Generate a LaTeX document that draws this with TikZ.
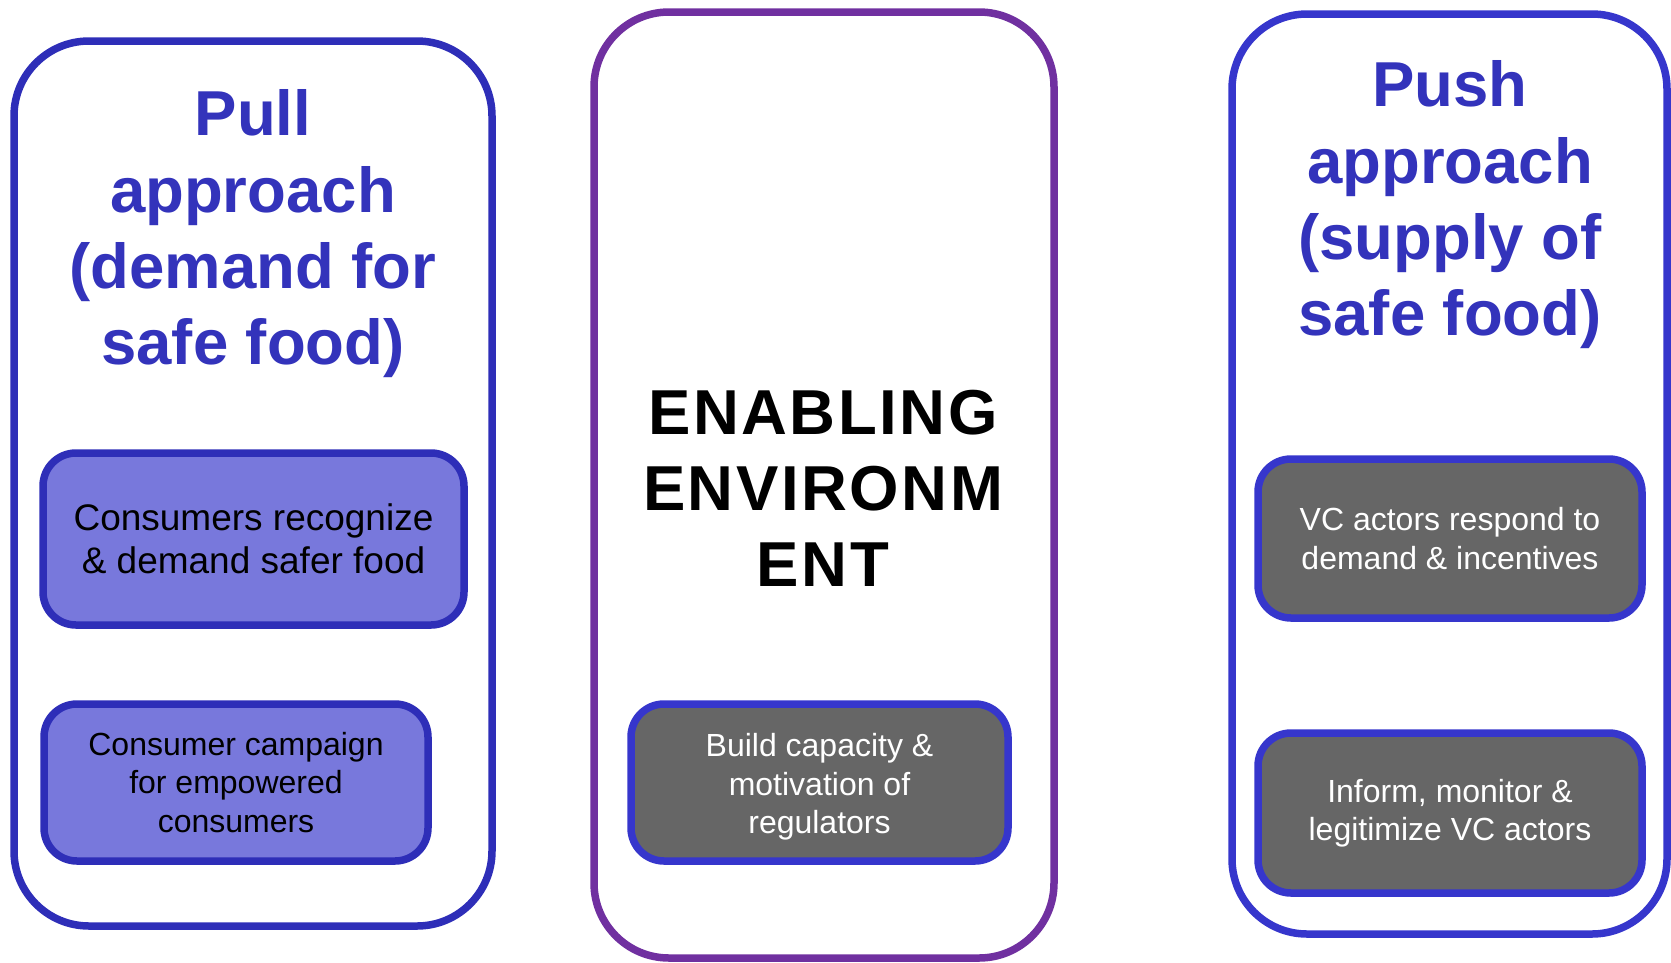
\documentclass[tikz,border=0pt]{standalone}
\usepackage{fontspec}
\setmainfont{Liberation Sans}
\newfontfamily\widesans[LetterSpace=4]{Liberation Sans}
\definecolor{pullblue}{HTML}{2E2EB8}
\definecolor{pushblue}{HTML}{3636CC}
\definecolor{headblue}{HTML}{3333BB}
\definecolor{envpurple}{HTML}{7030A0}
\definecolor{lilac}{HTML}{7878DC}
\definecolor{slate}{HTML}{666666}

\tikzset{
  panel/.style={draw, line width=7.5pt, rounded corners=75pt, inner sep=0pt},
  task/.style={draw, line width=7.5pt, rounded corners=33pt, align=center, inner sep=0pt},
  heading/.style={align=center, inner sep=0pt, anchor=north,
    font=\fontsize{63.5}{76.3}\selectfont\bfseries},
  big/.style={font=\fontsize{37}{42.6}\selectfont},
  small/.style={font=\fontsize{32}{38.4}\selectfont},
}

\begin{document}
\begin{tikzpicture}[x=1pt,y=-1pt]
    \useasboundingbox (0,0) rectangle (1671,962);

    \node[panel, draw=pullblue, minimum width=478pt, minimum height=885pt] (pull) at (253,483.5) {};
    \node[panel, draw=envpurple, minimum width=460pt, minimum height=946pt] (env) at (824,485) {};
    \node[panel, draw=pushblue, minimum width=435pt, minimum height=920pt] (push) at (1449.5,474) {};

    \node[heading, text=headblue] (pullhead) at (253,89.5) {Pull\\approach\\(demand for\\safe food)};
    \node[heading, text=headblue] (pushhead) at (1450,60.5) {Push\\approach\\(supply of\\safe food)};
    \node[heading, font=\fontsize{63.5}{76.3}\selectfont\widesans\bfseries] (envhead) at (823,389.5) {ENABLING\\ENVIRONM\\ENT};

    \node[task, big, draw=pullblue, fill=lilac, minimum width=421pt, minimum height=172pt] (recognize) at (253.5,539) {Consumers recognize\\\& demand safer food};
    \node[task, small, draw=pullblue, fill=lilac, minimum width=384pt, minimum height=157pt] (campaign) at (236,782.5) {Consumer campaign\\for empowered\\consumers};
    \node[task, small, draw=pushblue, fill=slate, text=white, minimum width=377pt, minimum height=157pt] (capacity) at (819.5,782.5) {\rule{0pt}{1em}Build capacity \&\\motivation of\\regulators};
    \node[task, small, draw=pushblue, fill=slate, text=white, minimum width=384pt, minimum height=159pt] (respond) at (1450,538.5) {VC actors respond to\\demand \& incentives};
    \node[task, small, draw=pushblue, fill=slate, text=white, minimum width=384pt, minimum height=160pt] (inform) at (1450,813) {Inform, monitor \&\\legitimize VC actors};
\end{tikzpicture}
\end{document}
